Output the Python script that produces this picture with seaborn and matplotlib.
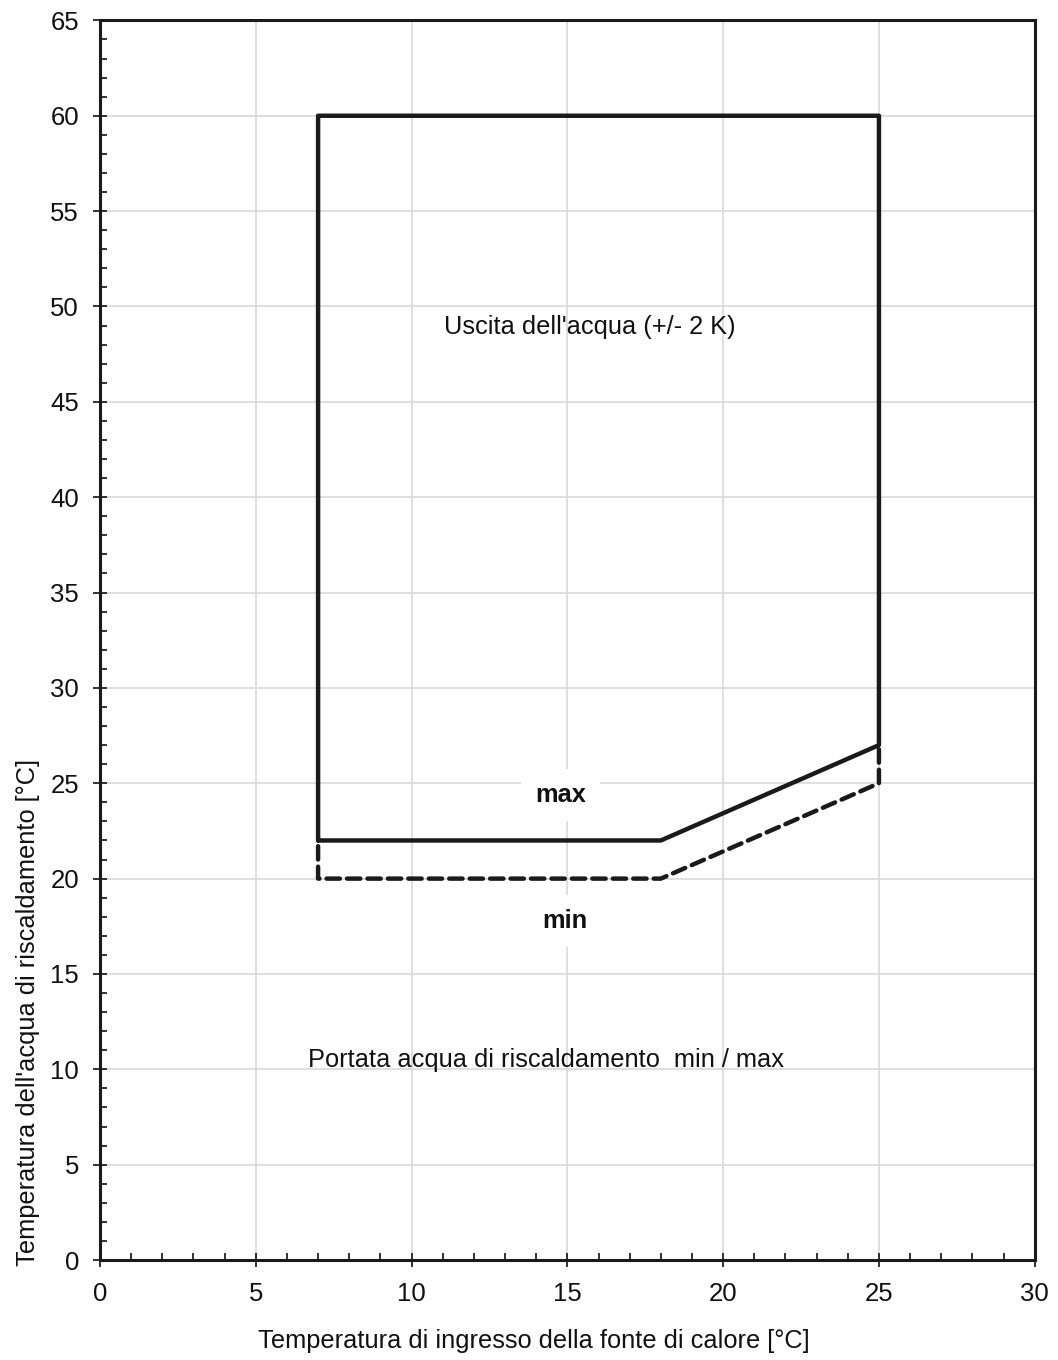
import numpy as np
import pandas as pd
import seaborn as sns
from matplotlib import pyplot as plt
from matplotlib.ticker import MultipleLocator

# operating envelope, max flow (solid) and min flow (dashed)
max_x = [7, 7, 25, 25, 18, 7]
max_y = [22, 60, 60, 27, 22, 22]
min_x = [7, 7, 18, 25, 25]
min_y = [21.7, 20, 20, 25, 27]

sns.set_style("ticks")
plt.rcParams['font.family'] = ['Liberation Sans', 'DejaVu Sans']
plt.rcParams['text.color'] = '#111111'
plt.rcParams['axes.labelcolor'] = '#111111'
plt.rcParams['xtick.color'] = '#111111'
plt.rcParams['ytick.color'] = '#111111'

fig = plt.figure(figsize=(10.58, 13.6), dpi=100)
ax = fig.add_axes([0.0945, 0.0735, 0.8835, 0.9115])

dmax = pd.DataFrame({'x': max_x, 'y': max_y})
dmin = pd.DataFrame({'x': min_x, 'y': min_y})
sns.lineplot(data=dmax, x='x', y='y', sort=False, estimator=None, color='#1a1a1a',
             lw=3.2, ax=ax, zorder=3)
sns.lineplot(data=dmin, x='x', y='y', sort=False, estimator=None, color='#1a1a1a',
             lw=3.2, ax=ax, zorder=3, dashes=False)
ax.lines[-1].set_linestyle((0, (3, 1.6)))
ax.lines[-1].set_dash_capstyle('round')

ax.set_xlim(0, 30)
ax.set_ylim(0, 65)
ax.xaxis.set_major_locator(MultipleLocator(5))
ax.yaxis.set_major_locator(MultipleLocator(5))
ax.xaxis.set_minor_locator(MultipleLocator(1))
ax.yaxis.set_minor_locator(MultipleLocator(1))
ax.grid(True, which='major', color='#d9d9d9', lw=1.2, zorder=0)
ax.tick_params(which='major', direction='inout', length=10, width=1.2, labelsize=18.5)
ax.tick_params(axis='x', which='major', pad=11)
ax.tick_params(axis='y', which='major', pad=10)
ax.tick_params(which='minor', direction='in', length=5, width=1.2)
for s in ax.spines.values():
    s.set_color('#1a1a1a')
    s.set_linewidth(2.2)

ax.set_xlabel('Temperatura di ingresso della fonte di calore [°C]', fontsize=18.3)
ax.set_ylabel("Temperatura dell'acqua di riscaldamento [°C]", fontsize=18.3)
ax.xaxis.set_label_coords(0.4636, -0.056)
ax.yaxis.set_label_coords(-0.064, 0.2)

ax.text(15.72, 48.9, "Uscita dell'acqua (+/- 2 K)", fontsize=18.3, ha='center', va='center', zorder=4)
ax.text(14.31, 10.5, 'Portata acqua di riscaldamento  min / max', fontsize=18.3,
        ha='center', va='center', zorder=4)
box = dict(facecolor='white', edgecolor='none', pad=10)
ax.text(14.79, 24.4, 'max', fontsize=18.3, fontweight='bold', ha='center', va='center',
        bbox=box, zorder=4)
ax.text(14.92, 17.8, 'min', fontsize=18.3, fontweight='bold', ha='center', va='center',
        bbox=box, zorder=4)

fig.savefig('out.png', dpi=100)
